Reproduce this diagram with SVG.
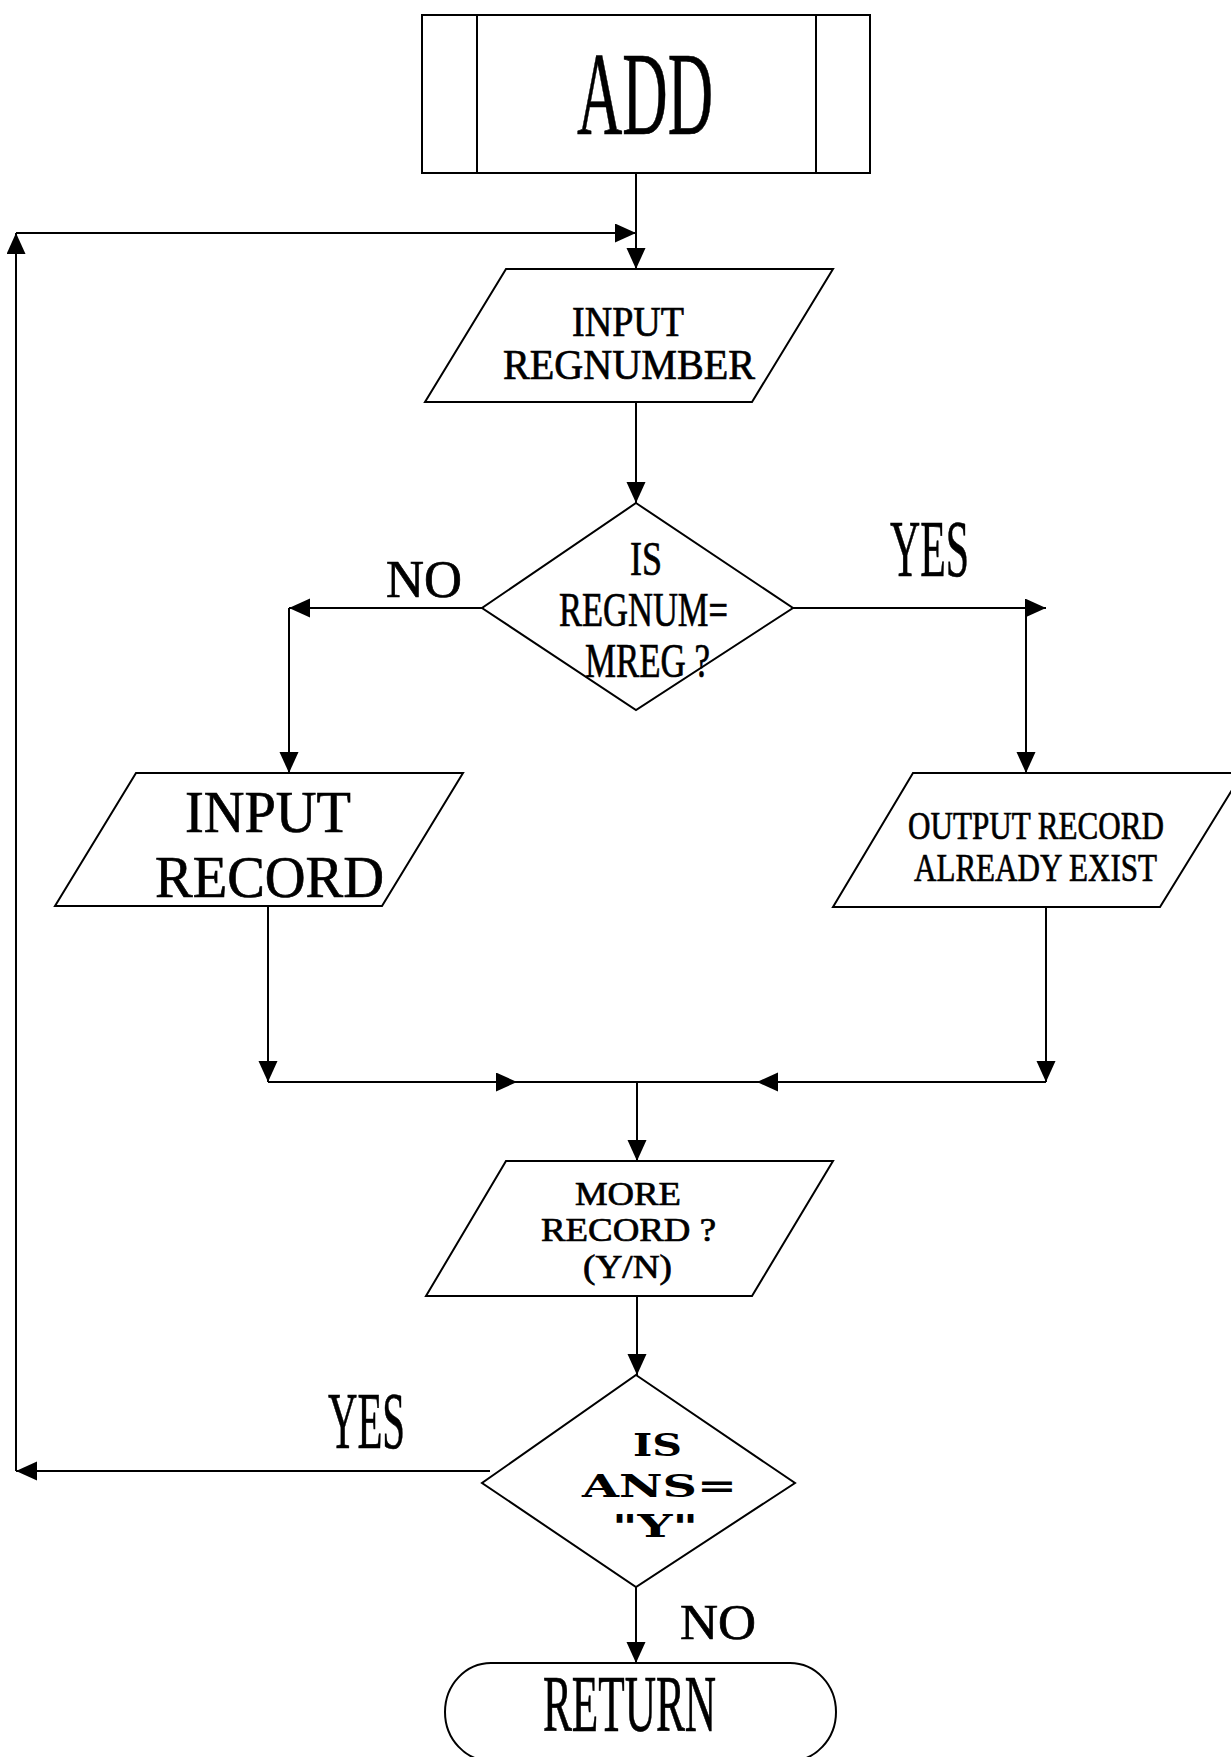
<svg xmlns="http://www.w3.org/2000/svg" width="1231" height="1757" viewBox="0 0 1231 1757">
<style>
.s{fill:#fff;stroke:#000;stroke-width:2}
.c{fill:none;stroke:#000;stroke-width:2}
.t{font-family:"Liberation Serif","Times New Roman",serif;fill:#000;stroke:#000;stroke-width:0.7}
.b{font-family:"DejaVu Serif","Liberation Serif",serif;font-weight:bold;fill:#000}
</style>
<defs>
<marker id="ah" markerUnits="userSpaceOnUse" viewBox="0 0 22 20" markerWidth="22" markerHeight="20" refX="21" refY="9.5" orient="auto">
<path d="M0,0 L21,9.5 L0,19 z" fill="#000"/>
</marker>
</defs>
<rect width="1231" height="1757" fill="#fff"/>
<g id="connectors">
<path class="c" d="M636,174 L636,269" marker-end="url(#ah)"/>
<path class="c" d="M636,402 L636,503" marker-end="url(#ah)"/>
<path class="c" d="M482,608 L289,608" marker-end="url(#ah)"/>
<path class="c" d="M289,608 L289,773" marker-end="url(#ah)"/>
<path class="c" d="M793,608 L1046,608" marker-end="url(#ah)"/>
<path class="c" d="M1026,608 L1026,773" marker-end="url(#ah)"/>
<path class="c" d="M268,906 L268,1082" marker-end="url(#ah)"/>
<path class="c" d="M1046,907 L1046,1082" marker-end="url(#ah)"/>
<path class="c" d="M268,1082 L517,1082" marker-end="url(#ah)"/>
<path class="c" d="M517,1082 L637,1082"/>
<path class="c" d="M1046,1082 L757,1082" marker-end="url(#ah)"/>
<path class="c" d="M757,1082 L637,1082"/>
<path class="c" d="M637,1082 L637,1161" marker-end="url(#ah)"/>
<path class="c" d="M637,1296 L637,1375" marker-end="url(#ah)"/>
<path class="c" d="M490,1471 L16,1471" marker-end="url(#ah)"/>
<path class="c" d="M16,1471 L16,233" marker-end="url(#ah)"/>
<path class="c" d="M16,233 L636,233" marker-end="url(#ah)"/>
<path class="c" d="M636,1587 L636,1663" marker-end="url(#ah)"/>
<text class="t" x="386" y="597" font-size="53" textLength="76" lengthAdjust="spacingAndGlyphs">NO</text>
<text class="t" x="890" y="576" font-size="80" textLength="79" lengthAdjust="spacingAndGlyphs">YES</text>
<text class="t" x="328" y="1448" font-size="80" textLength="77" lengthAdjust="spacingAndGlyphs">YES</text>
<text class="t" x="680" y="1639" font-size="50" textLength="76" lengthAdjust="spacingAndGlyphs">NO</text>
</g>
<g id="add">
<rect class="s" x="422" y="15" width="448" height="158"/>
<line class="c" x1="477" y1="15" x2="477" y2="173"/>
<line class="c" x1="816" y1="15" x2="816" y2="173"/>
<text class="t" x="577" y="134" font-size="118" textLength="136" lengthAdjust="spacingAndGlyphs">ADD</text>
</g>
<g id="input-regnumber">
<polygon class="s" points="506,269 833,269 752,402 425,402"/>
<text class="t" x="572" y="336" font-size="43" textLength="112" lengthAdjust="spacingAndGlyphs">INPUT</text>
<text class="t" x="503" y="379" font-size="43" textLength="252" lengthAdjust="spacingAndGlyphs">REGNUMBER</text>
</g>
<g id="decision-regnum">
<polygon class="s" points="636,503 793,608 636,710 482,608"/>
<text class="t" x="630" y="575" font-size="48" textLength="32" lengthAdjust="spacingAndGlyphs">IS</text>
<text class="t" x="559" y="626" font-size="48" textLength="169" lengthAdjust="spacingAndGlyphs">REGNUM=</text>
<text class="t" x="585" y="677" font-size="48" textLength="125" lengthAdjust="spacingAndGlyphs">MREG ?</text>
</g>
<g id="input-record">
<polygon class="s" points="136,773 463,773 382,906 55,906"/>
<text class="t" x="185" y="832" font-size="60" textLength="166" lengthAdjust="spacingAndGlyphs">INPUT</text>
<text class="t" x="155" y="897" font-size="60" textLength="229" lengthAdjust="spacingAndGlyphs">RECORD</text>
</g>
<g id="output-record">
<polygon class="s" points="913,773 1232,773 1232,790 1160,907 833,907"/>
<text class="t" x="908" y="839" font-size="40" textLength="256" lengthAdjust="spacingAndGlyphs">OUTPUT RECORD</text>
<text class="t" x="914" y="881" font-size="40" textLength="243" lengthAdjust="spacingAndGlyphs">ALREADY EXIST</text>
</g>
<g id="more-record">
<polygon class="s" points="506,1161 833,1161 752,1296 426,1296"/>
<text class="t" x="575" y="1205" font-size="33" textLength="106" lengthAdjust="spacingAndGlyphs">MORE</text>
<text class="t" x="541" y="1241" font-size="33" textLength="175" lengthAdjust="spacingAndGlyphs">RECORD ?</text>
<text class="t" x="583" y="1278" font-size="33" textLength="89" lengthAdjust="spacingAndGlyphs">(Y/N)</text>
</g>
<g id="decision-ans">
<polygon class="s" points="636,1375 795,1483 636,1587 482,1483"/>
<text class="b" x="633" y="1456" font-size="31" textLength="49" lengthAdjust="spacingAndGlyphs">IS</text>
<text class="b" x="582" y="1497" font-size="31" textLength="155" lengthAdjust="spacingAndGlyphs">ANS=</text>
<text class="b" x="612" y="1537" font-size="31" textLength="86" lengthAdjust="spacingAndGlyphs">"Y"</text>
</g>
<g id="return">
<rect class="s" x="445" y="1663" width="391" height="98" rx="46" ry="49"/>
<text class="t" x="543" y="1731" font-size="80" textLength="173" lengthAdjust="spacingAndGlyphs">RETURN</text>
</g>
</svg>
